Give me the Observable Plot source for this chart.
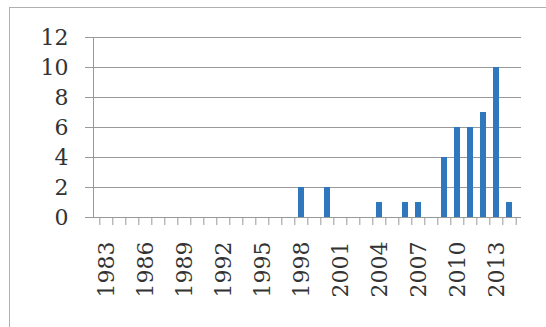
<!DOCTYPE html>
<html>
<head>
<meta charset="utf-8">
<script src="https://cdn.jsdelivr.net/npm/d3@7"></script>
<script src="https://cdn.jsdelivr.net/npm/@observablehq/plot@0.6"></script>
<style>
  html, body { margin: 0; padding: 0; background: #fff; overflow: hidden; }
  #wrap { position: relative; width: 546px; height: 327px; }
  #border { position: absolute; left: 9px; top: 7px; width: 560px; height: 340px; border: 1.5px solid #b0b0b0; box-sizing: border-box; }
  #chart { position: absolute; left: 0; top: 0; }
  #chart svg, #chart svg text { font-family: "DejaVu Serif", serif !important; font-size: 22px !important; }
</style>
</head>
<body>
<div id="wrap"><div id="border"></div><div id="chart"></div></div>
<script>
const years = ["1983","1984","1985","1986","1987","1988","1989","1990","1991","1992","1993","1994","1995","1996","1997","1998","1999","2000","2001","2002","2003","2004","2005","2006","2007","2008","2009","2010","2011","2012","2013","2014"];
const counts = [0,0,0,0,0,0,0,0,0,0,0,0,0,0,0,2,0,2,0,0,0,1,0,1,1,0,4,6,6,7,10,1];
const labelYears = ["1983","1986","1989","1992","1995","1998","2001","2004","2007","2010","2013"];
const yTicks = [0,2,4,6,8,10,12];

const data = years.map((y, i) => ({year: y, count: counts[i]}));
const W = 546, H = 327, mL = 93, mR = 25, mT = 37, mB = 110;
const halfStep = (W - mL - mR) / years.length / 2;

const chart = Plot.plot({
  width: W, height: H,
  marginLeft: mL, marginRight: mR, marginTop: mT, marginBottom: mB,
  style: {fontFamily: "DejaVu Serif", fontSize: "22px", color: "#333", background: "transparent"},
  x: {domain: years, paddingInner: 0.55, paddingOuter: 0.275, label: null},
  y: {domain: [0, 12], label: null},
  marks: [
    Plot.gridY(yTicks, {stroke: "#999", strokeOpacity: 1, strokeWidth: 1}),
    Plot.axisY(yTicks, {tickSize: 8, tickPadding: 17, stroke: "#999", fontSize: 22}),
    Plot.frame({anchor: "left", stroke: "#999"}),
    Plot.barY(data, {x: "year", y: "count", fill: "#3078be"}),
    Plot.ruleY([0], {stroke: "#999"}),
    Plot.axisX(years, {tickSize: 8, dx: -halfStep, tickFormat: () => "", stroke: "#999"}),
    Plot.axisX(["2014"], {tickSize: 8, dx: halfStep, tickFormat: () => "", stroke: "#999"}),
    Plot.axisX(labelYears, {tickSize: 0, tickPadding: 24, tickRotate: -90, fontSize: 22})
  ]
});
document.getElementById("chart").appendChild(chart);
</script>
</body>
</html>
